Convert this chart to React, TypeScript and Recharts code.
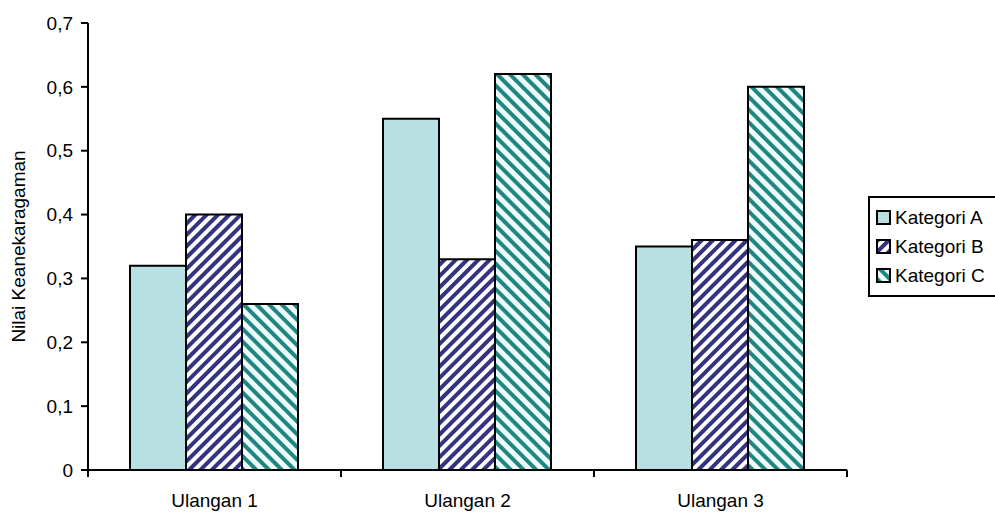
import { BarChart, Bar, XAxis, YAxis, Legend } from 'recharts'

const categories = ['Ulangan 1', 'Ulangan 2', 'Ulangan 3']
const kategoriA = [0.32, 0.55, 0.35]
const kategoriB = [0.4, 0.33, 0.36]
const kategoriC = [0.26, 0.62, 0.6]
const yTicks = [0, 0.1, 0.2, 0.3, 0.4, 0.5, 0.6, 0.7]

const chartData = categories.map((name, i) => ({
  name,
  a: kategoriA[i],
  b: kategoriB[i],
  c: kategoriC[i],
}))

const FONT = '"Liberation Sans", Arial, sans-serif'
const FS = 19
const LABEL_GAP = 24

const series = [
  { key: 'a', label: 'Kategori A', fill: '#b8dfe2' },
  { key: 'b', label: 'Kategori B', fill: 'url(#stripeB)' },
  { key: 'c', label: 'Kategori C', fill: 'url(#stripeC)' },
]

const fmt = (v: number) => (v === 0 ? '0' : v.toFixed(1).replace('.', ','))

// category label plus tick marks on both edges of the band
function CategoryTick(props: any) {
  const { x, y, payload } = props
  const half = payload.offset ?? 0
  const axisY = y - LABEL_GAP
  return (
    <g>
      <line x1={x - half} x2={x - half} y1={axisY} y2={axisY + 7} stroke="#000" strokeWidth={2} />
      <line x1={x + half} x2={x + half} y1={axisY} y2={axisY + 7} stroke="#000" strokeWidth={2} />
      <text x={x} y={y} dy="0.71em" textAnchor="middle" fill="#000" fontSize={FS} fontFamily={FONT}>
        {payload.value}
      </text>
    </g>
  )
}

function LegendBox() {
  return (
    <div
      style={{
        border: '2px solid #000',
        background: '#fff',
        padding: '5px 0 5px 6px',
        fontFamily: FONT,
        fontSize: FS,
        color: '#000',
      }}
    >
      {series.map((s) => (
        <div key={s.key} style={{ display: 'flex', alignItems: 'center', height: 29 }}>
          <svg width={15} height={15} style={{ marginRight: 4 }}>
            <rect x={1} y={1} width={13} height={13} fill={s.fill} stroke="#000" strokeWidth={2} />
          </svg>
          <span style={{ whiteSpace: 'nowrap' }}>{s.label}</span>
        </div>
      ))}
    </div>
  )
}

export default function App() {
  return (
    <div style={{ position: 'absolute', left: 0, top: 0, width: 995, height: 512, background: '#fff', overflow: 'hidden' }}>
      <svg width={0} height={0} style={{ position: 'absolute' }}>
        <defs>
          <pattern id="stripeB" width={8} height={8} patternUnits="userSpaceOnUse" patternTransform="rotate(45)">
            <rect width={8} height={8} fill="#ffffff" />
            <rect width={4} height={8} fill="#33337f" />
          </pattern>
          <pattern id="stripeC" width={9} height={9} patternUnits="userSpaceOnUse" patternTransform="rotate(-45)">
            <rect width={9} height={9} fill="#eefcfc" />
            <rect width={4} height={9} fill="#1f8682" />
          </pattern>
        </defs>
      </svg>
      <BarChart
        width={995}
        height={512}
        data={chartData}
        margin={{ top: 23, right: 148, bottom: 0, left: 0 }}
        barCategoryGap={42}
        barGap={0}
      >
        <XAxis
          dataKey="name"
          height={42}
          axisLine={{ stroke: '#000', strokeWidth: 2 }}
          tickLine={false}
          tickSize={0}
          tickMargin={LABEL_GAP}
          tick={<CategoryTick />}
        />
        <XAxis xAxisId="top" orientation="top" height={0} axisLine={{ stroke: '#000', strokeWidth: 2 }} tick={false} tickLine={false} />
        <YAxis
          width={88}
          domain={[0, 0.7]}
          ticks={yTicks}
          tickFormatter={fmt}
          axisLine={{ stroke: '#000', strokeWidth: 2 }}
          tickLine={{ stroke: '#000', strokeWidth: 2 }}
          tickSize={7}
          tick={{ fill: '#000', fontSize: FS, fontFamily: FONT }}
          tickMargin={8}
          label={{
            value: 'Nilai Keanekaragaman',
            angle: -90,
            position: 'insideLeft',
            offset: 18,
            style: { textAnchor: 'middle', fill: '#000', fontSize: FS, fontFamily: FONT },
          }}
        />
        <YAxis yAxisId="right" orientation="right" width={0} axisLine={{ stroke: '#000', strokeWidth: 2 }} tick={false} tickLine={false} />
        <Legend
          layout="vertical"
          verticalAlign="middle"
          align="center"
          content={<LegendBox />}
          wrapperStyle={{ left: 868, top: 196, width: 170 }}
        />
        {series.map((s) => (
          <Bar
            key={s.key}
            dataKey={s.key}
            name={s.label}
            fill={s.fill}
            stroke="#000"
            strokeWidth={2}
            isAnimationActive={false}
          />
        ))}
      </BarChart>
    </div>
  )
}
